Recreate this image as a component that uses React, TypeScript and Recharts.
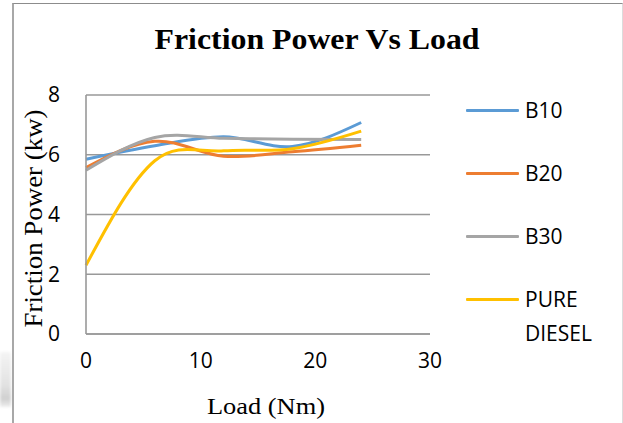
import React from 'react';
import { LineChart, Line, XAxis, YAxis, CartesianGrid, Legend, Label, Customized } from 'recharts';

// Load (Nm) readings and friction power (kW) per fuel blend
const loads = [0, 6, 12, 18, 24];
const b10 = [5.85, 6.3, 6.6, 6.28, 7.08];
const b20 = [5.57, 6.45, 5.95, 6.1, 6.32];
const b30 = [5.48, 6.58, 6.55, 6.52, 6.51];
const pureDiesel = [2.3, 5.8, 6.13, 6.2, 6.79];

const xTicks = [0, 10, 20, 30];
const yTicks = [0, 2, 4, 6, 8];

const series = [
    { key: 'b10', name: 'B10', color: '#5B9BD5', values: b10 },
    { key: 'b20', name: 'B20', color: '#ED7D31', values: b20 },
    { key: 'b30', name: 'B30', color: '#A5A5A5', values: b30 },
    { key: 'diesel', name: 'PURE DIESEL', color: '#FFC000', values: pureDiesel },
];

const data = loads.map((load, i) => {
    const row: Record<string, number> = { load };
    series.forEach(s => { row[s.key] = s.values[i]; });
    return row;
});

const tickFont = { fontFamily: '"Open Sans", sans-serif', fontSize: 21, fill: '#000' };
const serif = '"Liberation Serif", "Times New Roman", serif';

// Office-style smoothed line: Catmull-Rom inside, natural-spline tangents at both ends
const smoothCurve = (context: any) => {
    let pts: number[][] = [];
    return {
        areaStart() {},
        areaEnd() {},
        lineStart() { pts = []; },
        point(x: number, y: number) { pts.push([+x, +y]); },
        lineEnd() {
            const n = pts.length;
            if (!n) return;
            context.moveTo(pts[0][0], pts[0][1]);
            if (n < 3) {
                for (let i = 1; i < n; i++) context.lineTo(pts[i][0], pts[i][1]);
                return;
            }
            // slopes dy/dx at each point
            const m: number[] = pts.map((p, i) => {
                if (i === 0 || i === n - 1) return 0;
                return (pts[i + 1][1] - pts[i - 1][1]) / (pts[i + 1][0] - pts[i - 1][0]);
            });
            const chord = (a: number[], b: number[]) => (b[1] - a[1]) / (b[0] - a[0]);
            m[0] = (3 * chord(pts[0], pts[1]) - m[1]) / 2;
            m[n - 1] = (3 * chord(pts[n - 2], pts[n - 1]) - m[n - 2]) / 2;
            for (let i = 0; i < n - 1; i++) {
                const p1 = pts[i];
                const p2 = pts[i + 1];
                const h = (p2[0] - p1[0]) / 3;
                context.bezierCurveTo(
                    p1[0] + h, p1[1] + m[i] * h,
                    p2[0] - h, p2[1] - m[i + 1] * h,
                    p2[0], p2[1],
                );
            }
        },
    };
};

const LegendBox = () => (
    <div style={{ position: 'relative', width: 157, height: 260, fontFamily: '"Open Sans", sans-serif', color: '#000' }}>
        {series.map((s, i) => (
            <div key={s.key} style={{ position: 'absolute', top: i * 63, left: 0, display: 'flex', alignItems: 'flex-start' }}>
                <div style={{ width: 53, height: 3, background: s.color, marginTop: 15.5, borderRadius: 1 }} />
                <div style={{ marginLeft: 6, width: 80, lineHeight: '34px', fontSize: 21 }}>{s.name}</div>
            </div>
        ))}
    </div>
);

const Title = () => (
    <text x={317} y={49} textAnchor="middle" fontFamily={serif} fontWeight="bold" fontSize={29}
        textLength={325} lengthAdjust="spacingAndGlyphs" fill="#000">
        Friction Power Vs Load
    </text>
);

export default function App() {
    return (
        <div style={{ position: 'absolute', left: 0, top: 0, width: 623, height: 423, background: '#fff', overflow: 'hidden' }}>
            {/* faint shadow left of the frame */}
            <div style={{ position: 'absolute', left: 0, top: 352, width: 11, height: 55, background: 'linear-gradient(#f4f4f4, #e2e2e2 60%, #cfcfcf 85%, #eee)', filter: 'blur(1.5px)' }} />
            <div style={{ position: 'absolute', left: 12, top: 3, width: 608, height: 440, borderLeft: '2px solid #a8a8a8', borderTop: '1px solid #8c8c8c', borderRight: '1px solid #dcdcdc' }} />
            <div style={{ position: 'absolute', left: 0, top: 0 }}>
                <LineChart width={623} height={423} data={data} margin={{ top: 95, right: 193, bottom: 0, left: 36 }}>
                    <CartesianGrid horizontal vertical={false} stroke="#999" strokeWidth={1.6} />
                    <XAxis
                        dataKey="load"
                        type="number"
                        domain={[0, 30]}
                        ticks={xTicks}
                        height={89}
                        axisLine={{ stroke: '#999', strokeWidth: 1.6 }}
                        tickLine={false}
                        tickSize={0}
                        tickMargin={19}
                        tick={tickFont}
                    >
                        <Label
                            content={({ viewBox }: any) => (
                                <text x={viewBox.x + viewBox.width / 2 + 8} y={414} textAnchor="middle"
                                    fontFamily={serif} fontSize={23} textLength={118} lengthAdjust="spacingAndGlyphs" fill="#000">
                                    Load (Nm)
                                </text>
                            )}
                        />
                    </XAxis>
                    <YAxis
                        type="number"
                        domain={[0, 8]}
                        ticks={yTicks}
                        width={50}
                        axisLine={{ stroke: '#999', strokeWidth: 1.6 }}
                        tickLine={false}
                        tickSize={0}
                        tickMargin={26}
                        tick={tickFont}
                    >
                        <Label
                            content={({ viewBox }: any) => {
                                const cy = viewBox.y + viewBox.height / 2 + 4;
                                return (
                                    <text x={42} y={cy} transform={`rotate(-90 42 ${cy})`} textAnchor="middle"
                                        fontFamily={serif} fontSize={25} textLength={218} lengthAdjust="spacingAndGlyphs" fill="#000">
                                        Friction Power (kw)
                                    </text>
                                );
                            }}
                        />
                    </YAxis>
                    {series.map(s => (
                        <Line
                            key={s.key}
                            dataKey={s.key}
                            name={s.name}
                            type={smoothCurve as any}
                            stroke={s.color}
                            strokeWidth={3}
                            dot={false}
                            activeDot={false}
                            isAnimationActive={false}
                        />
                    ))}
                    <Legend
                        layout="vertical"
                        align="center"
                        verticalAlign="middle"
                        content={() => <LegendBox />}
                        wrapperStyle={{ left: 466, top: 93, width: 157, height: 260 }}
                    />
                    <Customized component={Title} />
                </LineChart>
            </div>
        </div>
    );
}
